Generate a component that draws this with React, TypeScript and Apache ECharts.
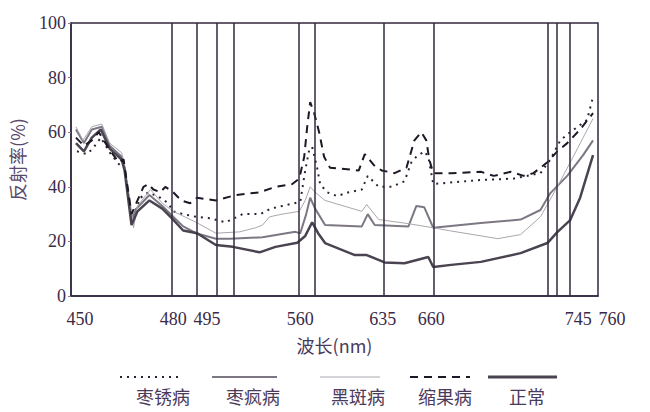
import React, { useEffect, useRef } from "react";
import * as echarts from "echarts";

// x values are positions along the (non-linear) wavelength axis, 0 = 450 nm edge
const seriesNames = ["枣锈病", "枣疯病", "黑斑病", "缩果病", "正常"];

const rustData: [number, number][] = [
  [6, 53], [16, 52], [22, 54], [30, 58], [40, 52], [49, 48], [54, 47], [61, 28], [70, 36], [78, 38],
  [90, 36], [98, 34], [103, 31], [113, 30], [126, 29], [140, 28.5], [156, 27], [173, 30], [191, 30],
  [201, 32], [213, 33], [231, 34.5], [236, 46], [240, 53.5], [243, 54.6], [248, 47], [251, 41],
  [258, 38], [268, 36.6], [280, 38], [293, 39], [299, 44], [310, 40], [323, 40], [336, 42], [343, 49],
  [348, 51], [356, 53], [360, 51], [365, 41], [380, 41.5], [413, 42.5], [446, 43], [473, 45],
  [483, 50], [493, 57], [503, 60], [520, 64.5], [526, 73],
];

const witchesBroomData: [number, number][] = [
  [5, 61], [13, 56], [21, 61], [31, 62], [39, 55], [51, 51], [54, 47], [61, 28], [66, 32], [79, 37],
  [92, 33], [103, 29], [113, 25.5], [126, 23], [146, 21], [160, 21], [193, 21.5], [226, 23.5],
  [231, 23], [237, 30], [241, 36], [246, 32], [256, 26], [293, 25.5], [299, 30], [306, 26],
  [340, 25.5], [348, 33], [356, 32.5], [365, 25], [413, 26.7], [453, 28], [473, 31.5], [483, 37.7],
  [500, 44], [516, 51.6], [526, 57],
];

const blackSpotData: [number, number][] = [
  [5, 62], [12, 57], [21, 62], [31, 63], [39, 56], [51, 52.5], [54, 48], [61, 31], [63, 25], [67, 33],
  [80, 39], [92, 34], [103, 31], [126, 27], [146, 23], [170, 23.5], [186, 25], [193, 26], [200, 29],
  [213, 30], [230, 31], [236, 35], [241, 40], [246, 38], [256, 35], [293, 31], [298, 33.5], [310, 28],
  [340, 26.5], [365, 25], [380, 24], [430, 21], [453, 22.5], [473, 29], [490, 40], [506, 51], [526, 65],
];

const shrinkData: [number, number][] = [
  [5, 58], [13, 55], [21, 57], [28, 60], [40, 53], [48, 49], [53, 50], [61, 30], [73, 40], [78, 41],
  [83, 39], [90, 38], [95, 40], [103, 38], [111, 35], [120, 34], [127, 36], [146, 35], [166, 37],
  [190, 38], [206, 40], [223, 41], [230, 43], [235, 51], [238, 62], [241, 71], [245, 67], [250, 60],
  [255, 51], [261, 47], [290, 46], [296, 52], [305, 48], [313, 46], [326, 45], [338, 47], [346, 57],
  [353, 60], [358, 57], [361, 50], [365, 45], [383, 45], [413, 45.5], [426, 44], [443, 45.5],
  [456, 44], [466, 45], [480, 49], [490, 53], [500, 56], [513, 61], [526, 67],
];

const normalData: [number, number][] = [
  [5, 56], [13, 53], [21, 58], [30, 61], [39, 54], [51, 50], [54, 46], [61, 26], [67, 31], [79, 35],
  [92, 32], [103, 28], [113, 24], [127, 23], [146, 18.7], [163, 18], [190, 16], [206, 18], [228, 19.5],
  [236, 22], [243, 27], [249, 23], [256, 19.4], [286, 15], [298, 15], [316, 12.3], [336, 12],
  [360, 14.3], [365, 10.6], [383, 11.4], [413, 12.5], [453, 15.7], [480, 19.4], [490, 23.4],
  [503, 27.8], [513, 36], [526, 51.6],
];

const bandLines = [102, 127, 147, 164, 229, 246, 315, 365, 480, 489, 503];

const tickPositions = [9, 103, 137, 231, 314, 363, 511, 531];
const tickLabels = ["450", "480", "495", "560", "635", "660", "745", "760"];

const yTicks = [0, 20, 40, 60, 80, 100];

const serif = "'Liberation Serif', 'DejaVu Serif', serif";
const cjk = "'Noto Sans CJK SC', sans-serif";
const axisColor = "#33283f";
const textColor = "#3a2a48";

const styles = [
  { color: "#2a2233", width: 2, type: [2, 5] as any },
  { color: "#7d7783", width: 2, type: "solid" as any },
  { color: "#aaa6ae", width: 1, type: "solid" as any },
  { color: "#1e1826", width: 2, type: [8, 6] as any },
  { color: "#4a4450", width: 2.5, type: "solid" as any },
];

const legendPos = [
  { x1: 120, x2: 183, tx: 163 },
  { x1: 212, x2: 277, tx: 253 },
  { x1: 320, x2: 380, tx: 358 },
  { x1: 410, x2: 470, tx: 445 },
  { x1: 488, x2: 557, tx: 527 },
];

export default function App() {
  const ref = useRef<HTMLDivElement>(null);
  useEffect(() => {
    document.body.style.margin = "0";
    if (!ref.current) return;
    const chart = echarts.init(ref.current, null, { renderer: "svg" });
    const datasets = [rustData, witchesBroomData, blackSpotData, shrinkData, normalData];
    const series: any[] = datasets.map((d, i) => ({
      name: seriesNames[i],
      type: "line",
      data: d,
      showSymbol: false,
      symbol: "none",
      lineStyle: styles[i],
      z: i === 3 ? 4 : 3,
    }));
    series[4].markLine = {
      silent: true,
      symbol: ["none", "none"],
      label: { show: false },
      lineStyle: { color: axisColor, width: 1.5, type: "solid" },
      data: bandLines.map((x) => ({ xAxis: x })),
    };
    const graphics: any[] = [];
    seriesNames.forEach((n, i) => {
      const p = legendPos[i];
      graphics.push({
        type: "line",
        shape: { x1: p.x1, y1: 377, x2: p.x2, y2: 377 },
        style: { stroke: styles[i].color, lineWidth: i === 4 ? 3 : styles[i].width, lineDash: Array.isArray(styles[i].type) ? styles[i].type : null },
      });
      graphics.push({
        type: "text",
        x: p.tx,
        y: 396,
        style: { text: n, font: `18px ${cjk}`, fill: "#4a3a5c", align: "center", verticalAlign: "middle" },
      });
    });
    chart.setOption({
      animation: false,
      backgroundColor: "#ffffff",
      grid: { left: 67, right: 52, top: 23, bottom: 116, show: true, borderColor: axisColor, borderWidth: 1.5 },
      xAxis: {
        type: "value",
        min: 0,
        max: 531,
        name: "波长(nm)",
        nameLocation: "middle",
        nameGap: 40,
        nameTextStyle: { fontFamily: cjk, fontSize: 18, color: "#4a3a5c" },
        axisLine: { show: true, lineStyle: { color: axisColor, width: 1.5 } },
        axisTick: { show: false },
        splitLine: { show: false },
        axisLabel: {
          customValues: tickPositions,
          margin: 14,
          fontFamily: serif,
          fontSize: 18,
          color: textColor,
          formatter: (v: number) => {
            const idx = tickPositions.indexOf(v);
            const lab = idx >= 0 ? tickLabels[idx] : "";
            return idx === tickPositions.length - 1 ? `{r|${lab}}` : lab;
          },
          rich: { r: { fontFamily: serif, fontSize: 18, color: textColor, padding: [0, 0, 0, 28] } },
        },
      },
      yAxis: {
        type: "value",
        min: 0,
        max: 100,
        interval: 20,
        name: "反射率(%)",
        nameLocation: "middle",
        nameGap: 45,
        nameTextStyle: { fontFamily: cjk, fontSize: 18, color: "#5a4a6a" },
        axisLine: { show: true, lineStyle: { color: axisColor, width: 1.5 } },
        axisTick: { show: true, length: 3, lineStyle: { color: "#8a8090" } },
        splitLine: { show: false },
        axisLabel: {
          customValues: yTicks,
          margin: 5,
          fontFamily: serif,
          fontSize: 18,
          color: textColor,
        },
      },
      series,
      graphic: graphics,
    });
    return () => chart.dispose();
  }, []);
  return <div ref={ref} style={{ width: 650, height: 412 }} />;
}
